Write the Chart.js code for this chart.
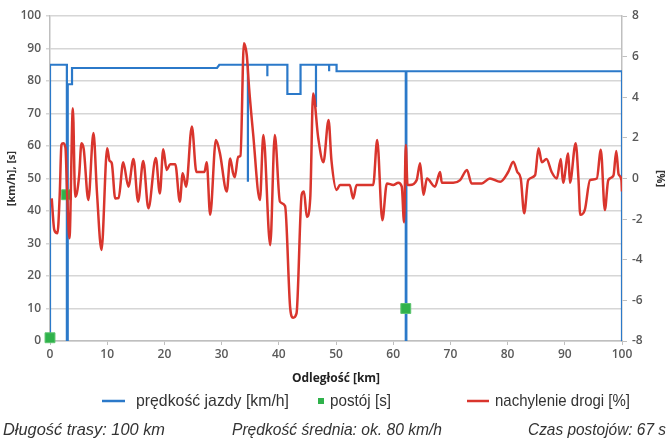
<!DOCTYPE html>
<html lang="pl">
<head>
<meta charset="utf-8">
<title>Prędkość i nachylenie drogi</title>
<script src="https://cdn.jsdelivr.net/npm/chart.js@4.4.1/dist/chart.umd.min.js"></script>
<style>
    html, body { margin: 0; padding: 0; background: #fff; }
    #wrap { position: relative; width: 667px; height: 442px; }
</style>
</head>
<body>
<div id="wrap"><canvas id="chart"></canvas></div>
<script>
// prędkość jazdy [km/h] – przebieg schodkowy
const speedKm = [0, 0, 2.95, 2.95, 3.1, 3.1, 3.85, 3.85, 29.2, 29.6, 34.6, 34.6, 34.6,
    38.0, 38.0, 38.0, 41.5, 41.5, 43.8, 43.8, 46.5, 46.5, 46.5, 48.8, 48.8, 48.8,
    50.1, 50.1, 62.2, 62.2, 62.3, 62.3, 100, 100];
const speedVal = [0, 85, 85, 0, 0, 79, 79, 84, 84, 85, 85, 49, 85,
    85, 81.5, 85, 85, 76, 76, 85, 85, 72, 85, 85, 83, 85,
    85, 83, 83, 0, 0, 83, 83, 0];

// postój [s]
const stopKm = [0, 2.9, 62.2];
const stopSec = [1, 45, 10];

// nachylenie drogi [%]
const gradeKm = [0.3, 0.75, 1.3, 1.7, 2.0, 2.3, 2.7, 3.0, 3.4, 4.0, 4.4, 4.7, 5.1, 5.5, 5.9,
    6.7, 7.6, 8.2, 9.0, 10.0, 10.4, 10.8, 11.4, 12.0, 12.8, 13.7, 14.6, 15.4, 16.3, 17.2,
    18.5, 19.2, 19.8, 20.4, 21.0, 21.9, 22.7, 23.2, 23.8, 24.8, 25.6, 27.0, 27.4, 28.0,
    29.0, 29.7, 30.9, 31.5, 32.0, 32.3, 32.9, 33.3, 33.9, 34.4, 34.8, 35.5, 36.7, 37.3,
    38.5, 39.3, 40.2, 41.1, 42.0, 42.5, 43.1, 44.0, 44.4, 44.9, 45.5, 46.0, 46.9, 47.8,
    48.7, 49.2, 50.1, 50.7, 52.4, 53.0, 53.6, 56.5, 57.2, 58.1, 58.9, 60.0, 60.9, 61.5,
    61.9, 62.2, 62.5, 62.9, 64.1, 64.7, 65.0, 65.3, 65.9, 67.3, 68.2, 68.5, 70.5, 71.7,
    72.9, 73.7, 75.5, 76.9, 78.7, 80.1, 81.0, 81.7, 82.3, 82.9, 83.6, 84.8, 85.4, 86.0,
    86.8, 87.7, 88.6, 89.3, 89.7, 90.6, 90.9, 91.9, 92.4, 92.7, 93.5, 94.4, 95.6, 96.3,
    97.0, 97.6, 98.5, 99.0, 99.4, 99.9, 100];
const gradeVal = [-0.98, -2.53, -2.70, -0.8, 1.65, 1.73, 1.52, -0.8, -2.94, 3.46, -0.9, -0.72, 0.16, 1.73, 1.44,
    -1.06, 2.24, -0.64, -3.52, 1.49, 0.88, 0.75, -0.98, -0.96, 0.8, -0.4, 0.96, -1.14, 0.86, -1.47,
    1.01, -0.74, 1.44, 0.42, 0.70, 0.70, -1.14, 0.26, -0.40, 2.56, 0.32, 0.32, 0.8, -1.79,
    1.89, 1.25, -0.64, 0.99, 0.27, 0.06, 1.07, 1.12, 6.66, 6.08, 4.48, 2.24, -1.06, 2.14,
    -3.28, 2.14, -1.14, -1.36, -6.4, -6.85, -6.64, -0.8, -0.64, -1.89, -0.96, 4.19, 1.98, 0.8,
    2.88, 0.91, -0.56, -0.32, -0.32, -0.98, -0.32, -0.32, 1.89, -2.05, -0.24, -0.32, -0.21, -0.4,
    -2.16, 1.65, -0.32, -0.32, -0.08, 0.75, -0.05, -0.8, 0, -0.4, 0.32, -0.21, -0.21, -0.08,
    0.42, -0.24, -0.24, 0, -0.16, 0.32, 0.83, 0.32, 0, -1.71, -0.08, 0.16, 1.49, 0.8,
    0.96, 0.32, 0, 0.96, -0.21, 1.23, -0.21, 1.73, -0.08, -1.79, -1.55, -0.08, 0, 1.41,
    -1.55, -0.08, 0.14, 1.36, 0.22, -0.08, -0.64];

// legenda i podpisy pod wykresem
const legendLabels = ['prędkość jazdy [km/h]', 'postój [s]', 'nachylenie drogi [%]'];
const footerTexts = ['Długość trasy: 100 km', 'Prędkość średnia: ok. 80 km/h', 'Czas postojów: 67 s'];

const BLUE = '#2b79c9';
const GREEN = '#2fb24b';
const RED = '#d9352d';
const GRID = '#d6d6d6';
const TICK_FONT = { family: '"Open Sans", sans-serif', size: 12, weight: '600' };

function toPoints(xs, ys) {
    return xs.map((x, i) => ({ x: x, y: ys[i] }));
}

// tekst zwężony do podanej szerokości (czcionka wąska jak w oryginale)
function narrowText(ctx, text, x, y, width) {
    const w = ctx.measureText(text).width;
    ctx.fillText(text, x, y, Math.min(w, width));
}

// rysowanie legendy i podpisów (rozmieszczenie jak w oryginale)
const bottomTextPlugin = {
    id: 'bottomTexts',
    afterDraw(chart) {
        const ctx = chart.ctx;
        ctx.save();
        ctx.textBaseline = 'middle';
        ctx.fillStyle = '#333';
        ctx.font = '17px "Liberation Sans", sans-serif';

        const ly = 401;
        // niebieska linia
        ctx.strokeStyle = BLUE;
        ctx.lineWidth = 2.5;
        ctx.beginPath(); ctx.moveTo(102, ly); ctx.lineTo(125, ly); ctx.stroke();
        narrowText(ctx, legendLabels[0], 136, ly, 153);
        // zielony kwadrat
        ctx.fillStyle = GREEN;
        ctx.fillRect(318, ly - 3, 6, 6);
        ctx.fillStyle = '#333';
        narrowText(ctx, legendLabels[1], 330, ly, 61);
        // czerwona linia
        ctx.strokeStyle = RED;
        ctx.beginPath(); ctx.moveTo(467, ly); ctx.lineTo(489, ly); ctx.stroke();
        narrowText(ctx, legendLabels[2], 495, ly, 135);

        ctx.font = 'italic 17px "Liberation Sans", sans-serif';
        const fy = 430;
        narrowText(ctx, footerTexts[0], 3, fy, 162);
        narrowText(ctx, footerTexts[1], 232, fy, 210);
        narrowText(ctx, footerTexts[2], 528, fy, 138);
        ctx.restore();
    }
};

new Chart(document.getElementById('chart'), {
    type: 'line',
    data: {
        datasets: [
            {
                label: legendLabels[2],
                data: toPoints(gradeKm, gradeVal),
                yAxisID: 'y1',
                borderColor: RED,
                borderWidth: 2.5,
                pointRadius: 0,
                cubicInterpolationMode: 'monotone',
                order: 0
            },
            {
                label: legendLabels[1],
                data: toPoints(stopKm, stopSec),
                yAxisID: 'y',
                showLine: false,
                pointStyle: 'rect',
                pointRadius: 7,
                pointBackgroundColor: GREEN,
                pointBorderColor: '#5cc46e',
                pointBorderWidth: 1,
                clip: false,
                order: 1
            },
            {
                label: legendLabels[0],
                data: toPoints(speedKm, speedVal),
                yAxisID: 'y',
                borderColor: BLUE,
                borderWidth: 2.2,
                pointRadius: 0,
                tension: 0,
                clip: 0,
                order: 2
            }
        ]
    },
    options: {
        responsive: true,
        maintainAspectRatio: false,
        animation: false,
        layout: { padding: { left: 0, right: 0, top: 16, bottom: 52 } },
        plugins: {
            legend: { display: false },
            tooltip: { enabled: false }
        },
        scales: {
            x: {
                type: 'linear',
                min: 0,
                max: 100,
                ticks: { stepSize: 10, color: '#595959', font: TICK_FONT, padding: 2 },
                grid: { display: true, drawOnChartArea: false, drawTicks: true, tickLength: 4, color: '#bfbfbf' },
                border: { display: true, color: '#bfbfbf', width: 1.5 },
                title: {
                    display: true,
                    text: 'Odległość [km]',
                    color: '#222',
                    font: { family: '"Open Sans", sans-serif', size: 12, weight: 'bold' },
                    padding: { top: 0, bottom: 4 }
                },
                afterFit(scale) { scale.height = 49; }
            },
            y: {
                position: 'left',
                min: 0,
                max: 100,
                ticks: { stepSize: 10, color: '#595959', font: TICK_FONT, padding: 5 },
                grid: { color: GRID, lineWidth: 1.5, tickLength: 4 },
                border: { display: true, color: '#bfbfbf', width: 1.5 },
                title: {
                    display: true,
                    text: '[km/h], [s]',
                    color: '#333',
                    font: { family: '"Open Sans", sans-serif', size: 11, weight: 'bold' },
                    padding: { top: 5, bottom: 0 }
                },
                afterFit(scale) { scale.width = 50; }
            },
            y1: {
                position: 'right',
                min: -8,
                max: 8,
                ticks: { stepSize: 2, color: '#595959', font: TICK_FONT, padding: 5 },
                grid: { drawOnChartArea: false, tickLength: 5, color: '#bfbfbf' },
                border: { display: true, color: '#bfbfbf', width: 1.5 },
                title: {
                    display: true,
                    text: '[%]',
                    color: '#333',
                    font: { family: '"Open Sans", sans-serif', size: 11, weight: 'bold' },
                    padding: { top: 0, bottom: 2 }
                },
                afterFit(scale) { scale.width = 45; }
            }
        }
    },
    plugins: [bottomTextPlugin]
});
</script>
</body>
</html>
